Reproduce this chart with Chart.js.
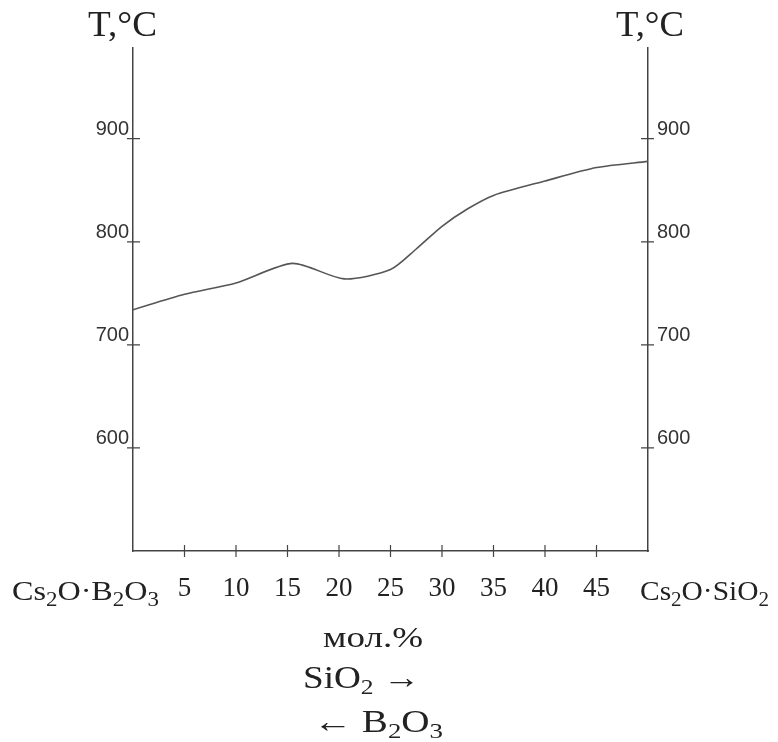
<!DOCTYPE html>
<html>
<head>
<meta charset="utf-8">
<script src="https://cdn.jsdelivr.net/npm/chart.js@4.4.1/dist/chart.umd.min.js"></script>
<style>
  body { margin: 0; background: #fff; }
  #wrap { width: 778px; height: 742px; position: relative; }
</style>
</head>
<body>
<div id="wrap"><canvas id="chart"></canvas></div>
<script>
// состав, мол.% SiO2
const molPercent = [0, 5, 10, 15.5, 20.5, 25, 27.5, 30, 32.5, 35, 40, 45, 50];
// температура, °C
const temperature = [734, 749, 760, 779, 764, 773, 793, 815, 832, 845, 859, 872, 878];

const xTicks = [5, 10, 15, 20, 25, 30, 35, 40, 45];
const yTicks = [600, 700, 800, 900];

const axisColor = '#444';
const serif = '"Liberation Serif", "DejaVu Serif", serif';
const sans = '"Liberation Sans", Arial, sans-serif';

// текст с нижними индексами: части [текст, индекс?], растянутый до ширины w
function drawChem(ctx, parts, x, y, size, w) {
    const subSize = Math.round(size * 0.7);
    let total = 0;
    parts.forEach(p => {
        ctx.font = (p[1] ? subSize : size) + 'px ' + serif;
        total += ctx.measureText(p[0]).width;
    });
    const sx = w ? w / total : 1;
    ctx.save();
    ctx.translate(x, y);
    ctx.scale(sx, 1);
    ctx.textAlign = 'left';
    ctx.textBaseline = 'alphabetic';
    let cx = 0;
    parts.forEach(p => {
        ctx.font = (p[1] ? subSize : size) + 'px ' + serif;
        ctx.fillText(p[0], cx, p[1] ? size * 0.2 : 0);
        cx += ctx.measureText(p[0]).width;
    });
    ctx.restore();
}

const decorPlugin = {
    id: 'decor',
    afterDraw(chart) {
        const ctx = chart.ctx;
        const xs = chart.scales.x;
        const yl = chart.scales.y;
        const yr = chart.scales.y2;
        const area = chart.chartArea;
        ctx.save();
        ctx.strokeStyle = axisColor;
        ctx.lineWidth = 1.2;
        ctx.beginPath();
        yTicks.forEach(v => {
            const py = yl.getPixelForValue(v);
            ctx.moveTo(area.left - 6, py);
            ctx.lineTo(area.left + 7, py);
            const pr = yr.getPixelForValue(v);
            ctx.moveTo(area.right - 7, pr);
            ctx.lineTo(area.right + 6, pr);
        });
        xTicks.forEach(v => {
            const px = xs.getPixelForValue(v);
            ctx.moveTo(px, area.bottom - 6);
            ctx.lineTo(px, area.bottom + 6);
        });
        ctx.stroke();

        ctx.fillStyle = '#222';
        // подписи концов оси
        drawChem(ctx, [['Cs'], ['2', 1], ['O·B'], ['2', 1], ['O'], ['3', 1]], 12, 600, 28, 147);
        drawChem(ctx, [['Cs'], ['2', 1], ['O·SiO'], ['2', 1]], 640, 600, 28, 129);

        // заголовки осей
        drawChem(ctx, [['T,°C']], 88, 36, 36, 69);
        drawChem(ctx, [['T,°C']], 616, 36, 36, 68);

        // подписи снизу
        drawChem(ctx, [['мол.%']], 323, 647, 29, 100);
        drawChem(ctx, [['SiO'], ['2', 1], [' →']], 303, 688, 32, 117);
        drawChem(ctx, [['← B'], ['2', 1], ['O'], ['3', 1]], 313, 732, 32, 130);
        ctx.restore();
    }
};

new Chart(document.getElementById('chart'), {
    type: 'line',
    data: {
        datasets: [{
            data: molPercent.map((x, i) => ({ x: x, y: temperature[i] })),
            borderColor: '#555',
            borderWidth: 1.6,
            pointRadius: 0,
            tension: 0.25,
            fill: false
        }]
    },
    options: {
        responsive: true,
        maintainAspectRatio: false,
        animation: false,
        layout: { padding: { top: 48 } },
        plugins: {
            legend: { display: false },
            tooltip: { enabled: false }
        },
        scales: {
            x: {
                type: 'linear',
                min: 0,
                max: 50,
                afterBuildTicks: s => { s.ticks = xTicks.map(v => ({ value: v })); },
                afterFit: s => { s.height = 191; },
                grid: { drawOnChartArea: false, drawTicks: false },
                border: { display: true, color: axisColor, width: 1.5 },
                ticks: {
                    padding: 22,
                    maxRotation: 0,
                    autoSkip: false,
                    color: '#222',
                    font: { family: serif, size: 27 }
                }
            },
            y: {
                position: 'left',
                min: 500,
                max: 988,
                afterBuildTicks: s => { s.ticks = yTicks.map(v => ({ value: v })); },
                afterFit: s => { s.width = 133; },
                grid: { drawOnChartArea: false, drawTicks: false },
                border: { display: true, color: axisColor, width: 1.5 },
                ticks: {
                    padding: 4,
                    labelOffset: -9,
                    color: '#333',
                    font: { family: sans, size: 20 }
                }
            },
            y2: {
                position: 'right',
                min: 500,
                max: 988,
                afterBuildTicks: s => { s.ticks = yTicks.map(v => ({ value: v })); },
                afterFit: s => { s.width = 130; },
                grid: { drawOnChartArea: false, drawTicks: false },
                border: { display: true, color: axisColor, width: 1.5 },
                ticks: {
                    padding: 9,
                    labelOffset: -9,
                    color: '#333',
                    font: { family: sans, size: 20 }
                }
            }
        }
    },
    plugins: [decorPlugin]
});
</script>
</body>
</html>
